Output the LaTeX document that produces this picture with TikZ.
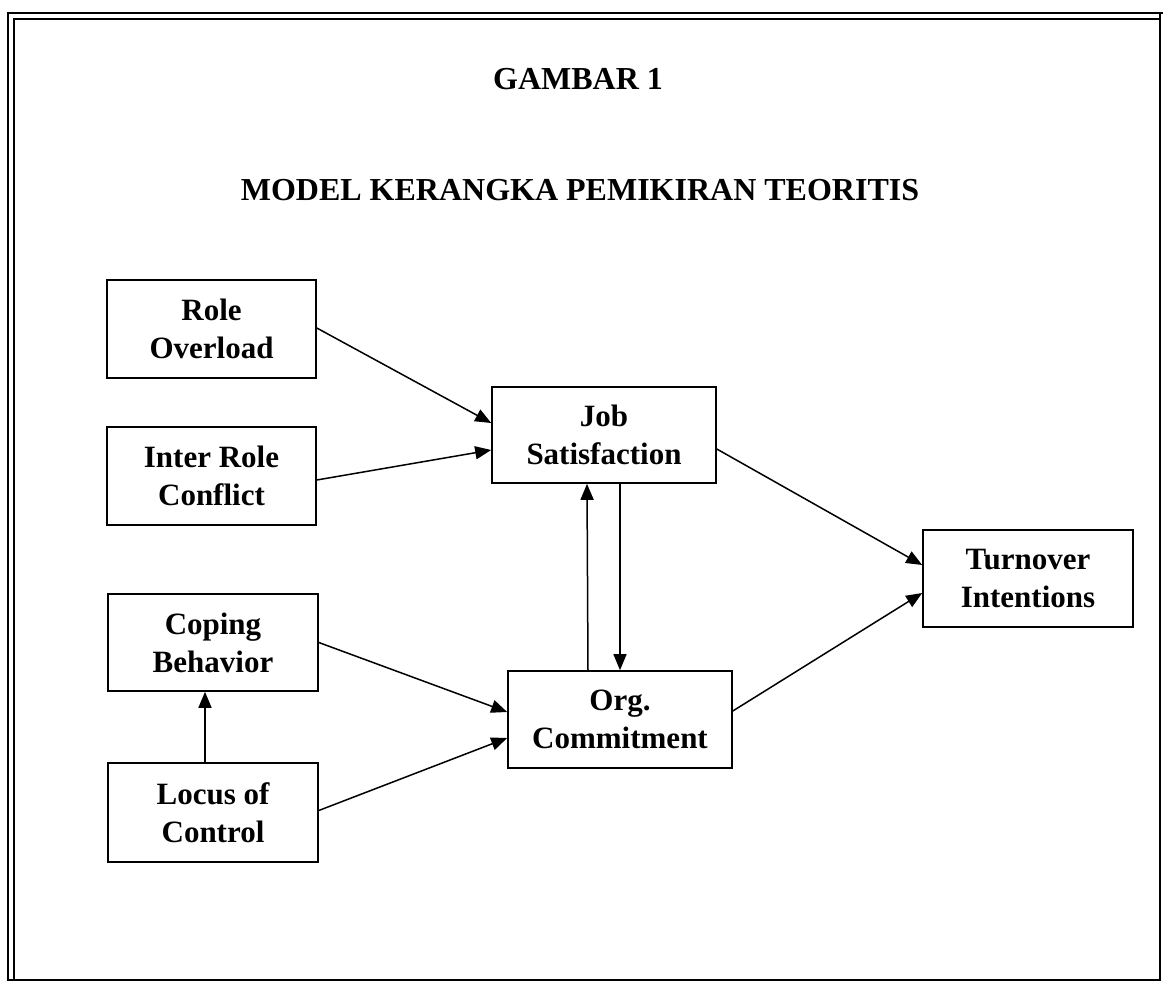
\documentclass[tikz,border=0pt]{standalone}
\usepackage{fontspec}
\setmainfont{Liberation Serif}
\usetikzlibrary{arrows.meta}
\begin{document}
\begin{tikzpicture}[x=1pt,y=-1pt,
  box/.style={draw, line width=1.6pt, rectangle, inner sep=0pt, align=center,
    font=\bfseries\fontsize{31}{38}\selectfont},
  conn/.style={line width=1.5pt, -{Triangle[length=16pt,width=13pt]}},
  frame/.style={line width=2.2pt},
  ttl/.style={anchor=base, inner sep=0pt, font=\bfseries\fontsize{32}{38}\selectfont}]
\useasboundingbox (0,0) rectangle (1163,981);
\fill[white] (0,0) rectangle (1163,981);
% frame
\draw[frame] (8,981) -- (8,13) -- (1163,13);
\draw[frame] (14,980) -- (14,19) -- (1160,19);
\draw[frame] (1160,13) -- (1160,980) -- (8,980);
% titles
\node[ttl] (g1) at (578,90) {GAMBAR 1};
\node[ttl] (mk) at (580,201) {MODEL KERANGKA PEMIKIRAN TEORITIS};
% boxes
\node[box, minimum width=209pt, minimum height=98pt] (RO) at (211.5,329) {Role\\Overload};
\node[box, minimum width=209pt, minimum height=98pt] (IRC) at (211.5,476) {Inter Role\\Conflict};
\node[box, minimum width=210pt, minimum height=97pt] (CB) at (213,642.5) {Coping\\Behavior};
\node[box, minimum width=210pt, minimum height=99pt] (LC) at (213,812.5) {Locus of\\Control};
\node[box, minimum width=224pt, minimum height=96pt] (JS) at (604,435) {Job\\Satisfaction};
\node[box, minimum width=224pt, minimum height=97pt] (OC) at (620,719.5) {Org.\\Commitment};
\node[box, minimum width=210pt, minimum height=97pt] (TI) at (1028,578.5) {Turnover\\Intentions};
% connectors
\draw[conn] ([yshift=1pt]RO.east) -- ([yshift=12pt]JS.west);
\draw[conn] ([yshift=-4pt]IRC.east) -- ([yshift=-15pt]JS.west);
\draw[conn] ([yshift=-14pt]JS.east) -- ([yshift=13.5pt]TI.west);
\draw[conn] ([yshift=8.5pt]OC.east) -- ([yshift=-14.5pt]TI.west);
\draw[conn] (CB.east) -- ([yshift=7.5pt]OC.west);
\draw[conn] ([yshift=2pt]LC.east) -- ([yshift=-18.5pt]OC.west);
\draw[conn] ([xshift=-8pt]LC.north) -- ([xshift=-8pt]CB.south);
\draw[conn] ([xshift=-32pt]OC.north) -- ([xshift=-17pt]JS.south);
\draw[conn] ([xshift=16pt]JS.south) -- ([xshift=0pt]OC.north);
\end{tikzpicture}
\end{document}
